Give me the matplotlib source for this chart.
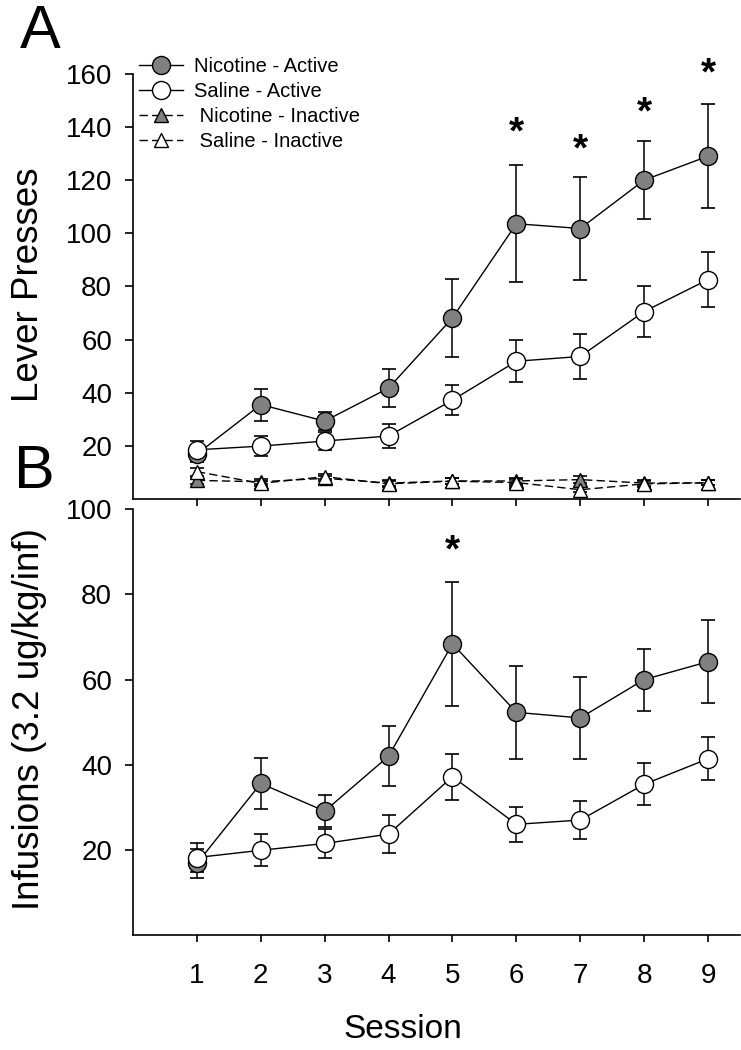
import matplotlib.pyplot as plt
from matplotlib import transforms

plt.rcParams["font.family"] = ["Liberation Sans", "DejaVu Sans"]

sessions = [1, 2, 3, 4, 5, 6, 7, 8, 9]

# Panel A - lever presses
nic_active = [17.0, 35.6, 29.4, 41.8, 68.2, 103.6, 101.8, 120.0, 129.0]
nic_active_sem = [3.0, 6.0, 3.5, 7.0, 14.6, 22.0, 19.3, 14.6, 19.5]
sal_active = [18.6, 20.0, 21.9, 23.8, 37.3, 51.9, 53.7, 70.6, 82.6]
sal_active_sem = [3.2, 3.8, 3.5, 4.4, 5.5, 7.8, 8.6, 9.6, 10.2]
nic_inactive = [7.1, 6.6, 7.9, 6.1, 6.9, 6.9, 7.4, 6.1, 6.2]
nic_inactive_sem = [1.2, 1.0, 1.0, 1.0, 1.2, 1.2, 1.2, 1.0, 1.0]
sal_inactive = [10.4, 6.0, 8.5, 5.8, 6.8, 6.3, 3.6, 5.8, 6.2]
sal_inactive_sem = [1.5, 1.0, 1.0, 1.0, 1.2, 1.2, 1.0, 1.0, 1.0]
stars_a_x = [6, 7, 8, 9]
stars_a_y = [140.5, 134.0, 147.8, 162.5]

# Panel B - infusions
nic_inf = [16.8, 35.6, 29.1, 42.0, 68.4, 52.3, 51.0, 60.0, 64.2]
nic_inf_sem = [3.3, 5.9, 3.7, 7.0, 14.5, 11.0, 9.7, 7.3, 9.8]
sal_inf = [18.2, 19.9, 21.5, 23.7, 37.2, 26.0, 27.0, 35.4, 41.4]
sal_inf_sem = [3.4, 3.8, 3.5, 4.4, 5.4, 4.1, 4.4, 4.9, 5.0]
stars_b_x = [5]
stars_b_y = [91.9]

gray = "#808080"


def draw_series(ax, y, err, marker, face, ls, ms):
    ax.errorbar(sessions, y, yerr=err, fmt="none", ecolor="black",
                elinewidth=1.1, capsize=5, capthick=1.2, zorder=2)
    line, = ax.plot(sessions, y, linestyle=ls, color="black", linewidth=1,
                    marker=marker, markersize=ms, markerfacecolor=face,
                    markeredgecolor="black", markeredgewidth=1, zorder=3)
    return line


def draw_stars(ax, xs, ys):
    # the asterisk glyph sits high in its line box, so nudge it down
    shift = transforms.ScaledTranslation(0, -0.075, fig.dpi_scale_trans)
    for sx, sy in zip(xs, ys):
        ax.text(sx, sy, "*", ha="center", va="center", fontsize=28,
                fontweight="bold", clip_on=False,
                transform=ax.transData + shift)


def style_axis(ax, ymax, labels_x):
    ax.set_xlim(0, 9.5)
    ax.set_ylim(0, ymax)
    ax.set_yticks(range(20, ymax + 1, 20))
    ax.set_xticks(sessions)
    if not labels_x:
        ax.set_xticklabels([])
    for side in ["top", "right"]:
        ax.spines[side].set_visible(False)
    for side in ["left", "bottom"]:
        ax.spines[side].set_linewidth(1.2)
    ax.tick_params(axis="y", direction="out", length=6, width=1.2,
                   labelsize=20, pad=9)
    ax.tick_params(axis="x", direction="out", length=5, width=1.2,
                   labelsize=20, pad=15)


fig = plt.figure(figsize=(7.41, 10.5), dpi=100)
ax1 = fig.add_axes([133 / 741, 1 - 499.3 / 1050, 607 / 741, 425.6 / 1050])
ax2 = fig.add_axes([133 / 741, 1 - 935 / 1050, 607 / 741, 425.7 / 1050])

h3 = draw_series(ax1, nic_inactive, nic_inactive_sem, "^", gray, (0, (6, 3)), 10)
h4 = draw_series(ax1, sal_inactive, sal_inactive_sem, "^", "white", (0, (6, 3)), 10)
h1 = draw_series(ax1, nic_active, nic_active_sem, "o", gray, "-", 13)
h2 = draw_series(ax1, sal_active, sal_active_sem, "o", "white", "-", 13)

draw_stars(ax1, stars_a_x, stars_a_y)
style_axis(ax1, 160, False)

ax1.legend([h1, h2, h3, h4],
           ["Nicotine - Active", "Saline - Active",
            " Nicotine - Inactive", " Saline - Inactive"],
           loc="upper left", bbox_to_anchor=(139 / 741, 1 - 57 / 1050),
           bbox_transform=fig.transFigure, frameon=False, fontsize=14.5,
           borderpad=0, borderaxespad=0, handlelength=2.2,
           handletextpad=0.55, labelspacing=0.3)

draw_series(ax2, nic_inf, nic_inf_sem, "o", gray, "-", 13)
draw_series(ax2, sal_inf, sal_inf_sem, "o", "white", "-", 13)

draw_stars(ax2, stars_b_x, stars_b_y)
style_axis(ax2, 100, True)

fig.text(40 / 741, 1 - 33 / 1050, "A", fontsize=44, ha="center", va="center")
fig.text(34 / 741, 1 - 473 / 1050, "B", fontsize=44, ha="center", va="center")
fig.text(28 / 741, 1 - 285 / 1050, "Lever Presses", rotation=90,
         fontsize=26.5, ha="center", va="center")
fig.text(30 / 741, 1 - 719 / 1050, "Infusions (3.2 ug/kg/inf)", rotation=90,
         fontsize=26.5, ha="center", va="center")
fig.text(403 / 741, 1 - 1029 / 1050, "Session", fontsize=24,
         ha="center", va="center")

fig.savefig("out.png", dpi=100)
